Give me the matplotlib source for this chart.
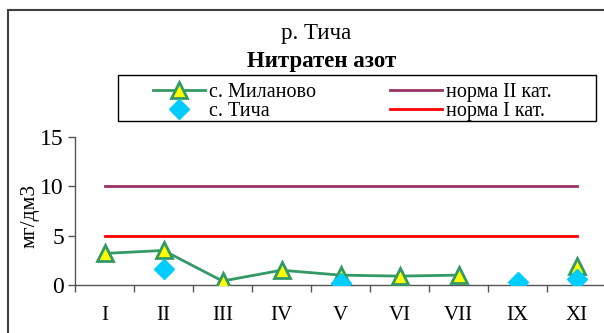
import numpy as np
import matplotlib
matplotlib.use("Agg")
import matplotlib.pyplot as plt
from matplotlib.patches import Rectangle

# --- data ---
months = ["I", "II", "III", "IV", "V", "VI", "VII", "IX", "XI"]
milanovo = [3.2, 3.5, 0.4, 1.5, 1.0, 0.9, 1.0, np.nan, 1.9]
ticha = [np.nan, 1.6, np.nan, np.nan, 0.2, np.nan, np.nan, 0.3, 0.6]
norm_2 = [10] * len(months)
norm_1 = [5] * len(months)

plt.rcParams["font.family"] = ["Liberation Serif", "DejaVu Serif"]

fig = plt.figure(figsize=(6.04, 3.33), dpi=100)
ax = fig.add_axes([75 / 604, 1 - 285 / 333, 531 / 604, 148 / 333])

x = np.arange(len(months))
ax.plot(x, milanovo, color="#339966", lw=2, marker="^", ms=11,
        mfc="#FFFF00", mec="#339966", mew=2, label="с. Миланово", zorder=4)
ax.plot(x, ticha, ls="none", marker="D", ms=10, mfc="#00CCFF",
        mec="#00CCFF", label="с. Тича", zorder=5)
ax.plot(x, norm_2, color="#993366", lw=2, label="норма II кат.", zorder=3)
ax.plot(x, norm_1, color="#FF0000", lw=2, label="норма I кат.", zorder=3)

ax.set_xlim(-0.5, len(months) - 0.5)
ax.set_ylim(0, 15)
ax.set_yticks([0, 5, 10, 15])
ax.set_xticks(x)
ax.set_xticklabels(months)
ax.set_xticks(np.arange(-0.5, len(months), 1), minor=True)
ax.tick_params(axis="x", which="major", length=0, pad=15, labelsize=15)
ax.tick_params(axis="x", which="minor", length=5, width=1, color="#555555")
ax.tick_params(axis="y", length=5, width=1, color="#555555", pad=3, labelsize=17)

for s in ["top", "right"]:
    ax.spines[s].set_visible(False)
for s in ["left", "bottom"]:
    ax.spines[s].set_color("#555555")
    ax.spines[s].set_linewidth(1)
ax.patch.set_visible(False)

fig.text(30 / 604, 1 - 216 / 333, "мг/дм3", rotation=90, ha="center",
         va="center", fontsize=15.5)
fig.text(316 / 604, 1 - 39 / 333, "р. Тича", ha="center", va="baseline",
         fontsize=16.5)
fig.text(322 / 604, 1 - 67 / 333, "Нитратен азот", ha="center", va="baseline",
         fontsize=16.5, fontweight="bold")

# outer chart frame and legend box
fig.patches.append(Rectangle((8 / 604, -0.1), 1.0, 1.1 - 10 / 333,
                             transform=fig.transFigure, fill=False,
                             ec="#404040", lw=1.5))
fig.patches.append(Rectangle((118 / 604, 1 - 121 / 333), 478 / 604, 46 / 333,
                             transform=fig.transFigure, fill=False,
                             ec="black", lw=1))

fig.legend(loc="upper left", bbox_to_anchor=(153 / 604, 1 - 83 / 333),
           ncol=2, frameon=False, fontsize=14.5, handlelength=2.6,
           labelspacing=0.0, columnspacing=3.65, handletextpad=0.2,
           borderpad=0, borderaxespad=0)

plt.savefig("out.png", dpi=100)
plt.close()
